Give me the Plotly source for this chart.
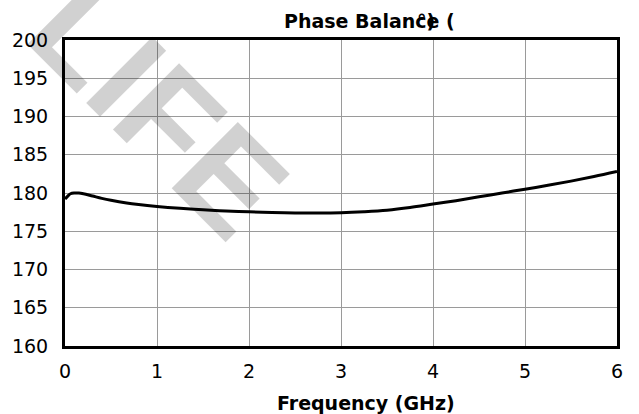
import plotly.graph_objects as go

freq_ghz = [0.0, 0.03, 0.06, 0.1, 0.15, 0.2, 0.3, 0.4, 0.5, 0.67, 0.8, 1.0,
            1.25, 1.5, 1.75, 2.0, 2.25, 2.5, 2.75, 3.0, 3.25, 3.5, 3.75, 4.0,
            4.25, 4.5, 4.75, 5.0, 5.25, 5.5, 5.75, 6.0]
phase_deg = [179.2, 179.6, 179.9, 180.0, 180.0, 179.9, 179.6, 179.3, 179.05, 178.7, 178.5, 178.25,
             178.0, 177.8, 177.65, 177.55, 177.45, 177.4, 177.38, 177.42, 177.55, 177.75, 178.1, 178.55,
             179.0, 179.5, 180.0, 180.5, 181.0, 181.55, 182.15, 182.8]

x_ticks = [0, 1, 2, 3, 4, 5, 6]
y_ticks = [160, 165, 170, 175, 180, 185, 190, 195, 200]

FONT = "DejaVu Sans"

fig = go.Figure(go.Scatter(
    x=freq_ghz, y=phase_deg, mode="lines",
    line=dict(color="black", width=3, shape="spline"),
    showlegend=False,
))

axis_common = dict(showline=True, mirror=True, linewidth=3, linecolor="black",
                   showgrid=True, gridcolor="#9a9a9a", gridwidth=1, zeroline=False,
                   ticks="outside", tickcolor="rgba(0,0,0,0)",
                   tickfont=dict(family=FONT, size=19, color="black"))

fig.update_layout(
    width=639, height=414,
    paper_bgcolor="white", plot_bgcolor="white",
    margin=dict(l=61, r=22, t=40, b=68),
    xaxis=dict(range=[0, 6], tickvals=x_ticks, ticklen=6, **axis_common),
    yaxis=dict(range=[160, 200], tickvals=y_ticks, ticklen=10, **axis_common),
    font=dict(family=FONT, color="black"),
)

# watermark
fig.add_annotation(text="<b>LIFE</b>", xref="paper", yref="paper", x=0.17, y=0.775,
                   xanchor="center", yanchor="middle", textangle=45, showarrow=False,
                   font=dict(family="Liberation Sans", size=136, color="rgba(0,0,0,0.18)"))

# title (with the overlapping degree sign as in the source)
fig.add_annotation(text="<b>Phase Balance (</b>", xref="paper", yref="paper",
                   x=(280 - 61) / 556, y=1.062, xanchor="left", yanchor="middle",
                   showarrow=False, font=dict(family=FONT, size=19, color="black"))
fig.add_annotation(text="<b>°)</b>", xref="paper", yref="paper",
                   x=(414 - 61) / 556, y=1.062, xanchor="left", yanchor="middle",
                   showarrow=False, font=dict(family=FONT, size=19, color="black"))

fig.add_annotation(text="<b>Frequency (GHz)</b>", xref="paper", yref="paper",
                   x=0.545, y=-0.186, xanchor="center", yanchor="middle",
                   showarrow=False, font=dict(family=FONT, size=19, color="black"))

fig.write_html("out.html", config={"displayModeBar": False},
               post_script="document.body.style.margin='0';")
